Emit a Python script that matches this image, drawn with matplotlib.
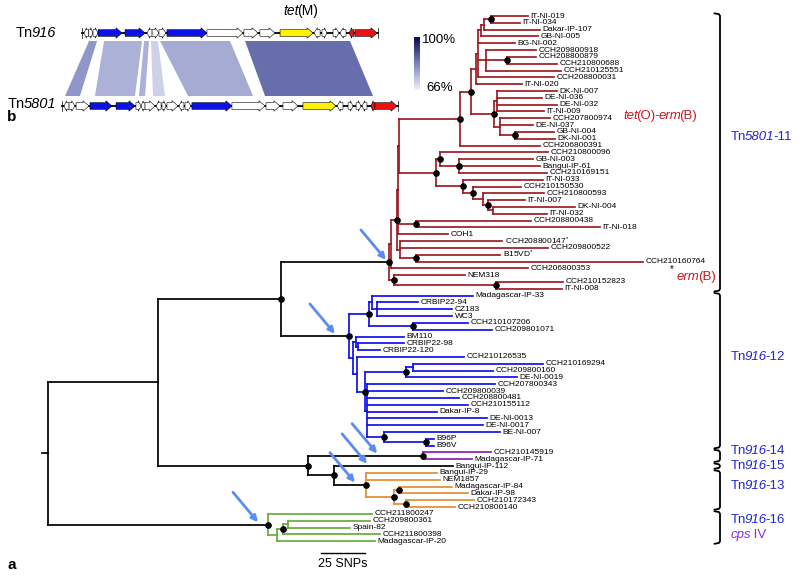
import matplotlib.pyplot as plt
from matplotlib.collections import LineCollection
from matplotlib.patches import Polygon
from matplotlib.colors import LinearSegmentedColormap, Normalize
import numpy as np

plt.rcParams['font.family'] = ['Liberation Sans', 'DejaVu Sans']
plt.rcParams['mathtext.fontset'] = 'custom'
plt.rcParams['mathtext.rm'] = 'Liberation Sans'
plt.rcParams['mathtext.it'] = 'Liberation Sans:italic'

RED = "#9c1c22"
BLUE = "#1010ee"
PURPLE = "#8c1fb4"
ORANGE = "#e58e2e"
GREEN = "#66ac38"
ARROW = "#5b8cf0"


def N(depth, children, dot=False, color=None, key=None):
    return {"depth": depth, "children": children, "dot": dot, "color": color, "key": key}


def L(name, depth, star=False):
    return {"name": name, "depth": depth, "star": star}


# ---- tree (depth = SNPs from root) ----
# tet(O)-erm(B) / erm(B) clade
ua = N(251.7, [L("IT-NI-019", 272.7), L("IT-NI-034", 268.2)], dot=True)
ub = N(247.7, [ua, L("Dakar-IP-107", 279.5)])
uc = N(246.0, [ub, L("GB-NI-005", 278.4)])
ud = N(260.8, [L("CCH208800879", 277.3), L("CCH210800688", 289.2)], dot=True)
ue = N(248.9, [L("CCH209800918", 277.3), ud, L("CCH210125551", 291.5)])
uf = N(244.3, [uc, L("BG-NI-002", 265.3), ue, L("CCH208800031", 287.5)])
ug = N(243.2, [uf, L("IT-NI-020", 269.3)])
dk_a = N(255.1, [L("DK-NI-007", 289.2), L("DE-NI-036", 280.7),
                 L("DE-NI-032", 289.2), L("IT-NI-009", 281.8)])
dk_c = N(265.3, [L("GB-NI-004", 287.5), L("DK-NI-001", 288.1)], dot=True)
dk_b = N(256.8, [L("CCH207800974", 285.2), L("DE-NI-037", 275.6), dk_c])
dk = N(253.4, [dk_a, dk_b], dot=True)
ug2 = N(240.3, [ug, dk], dot=True)
n460 = N(234.1, [ug2, L("CCH206800391", 279.5)], dot=True)
w = N(233.5, [L("GB-NI-003", 275.6), L("Bangui-IP-61", 279.5), L("CCH210169151", 283.5)], dot=True)
n440 = N(222.7, [L("CCH210800096", 284.1), w], dot=True)
y5 = N(252.8, [L("DK-NI-004", 299.4), L("IT-NI-032", 283.5)])
y4 = N(250.0, [L("IT-NI-007", 271.0), y5], dot=True)
y3 = N(247.2, [L("CCH210800593", 281.8), y4])
y2 = N(241.5, [L("CCH210150530", 268.8), y3], dot=True)
y1 = N(235.8, [L("IT-NI-033", 281.3), y2], dot=True)
n436 = N(220.5, [n440, y1], dot=True)
u = N(199.4, [n460, n436])
r438 = N(209.1, [L("CCH208800438", 274.4), L("IT-NI-018", 313.6)], dot=True)
rm1 = N(198.9, [u, r438, L("COH1", 227.3)])
rb2 = N(209.1, [L("B15VD", 256.8, star=True), L("CCH210160764", 338.1)], dot=True)
rb = N(200.0, [L("CCH208800147", 258.0, star=True), L("CCH209800522", 284.1), rb2])
rmain = N(198.3, [rm1, rb], dot=True)
rup = N(194.9, [rmain, L("CCH206800353", 272.7)])
rx = N(254.5, [L("CCH210152823", 292.6), L("IT-NI-008", 292.0)], dot=True)
rnem = N(196.6, [L("NEM318", 236.9), rx], dot=True)
red_clade = N(193.8, [rup, rnem], dot=True, color=RED, key="red")

# Tn916-12 clade
bl1c = N(186.9, [L("CRBIP22-94", 210.2), L("CZ183", 229.5), L("WC3", 229.5)])
bl1a = N(184.1, [L("Madagascar-IP-33", 241.5), bl1c])
bl1d = N(207.4, [L("CCH210107206", 238.6), L("CCH209801071", 252.3)], dot=True)
bl1 = N(182.4, [bl1a, bl1d], dot=True)
bl2b = N(176.1, [L("CRBIP22-98", 202.3), L("CRBIP22-120", 188.6)])
bl2a = N(175.0, [L("BM110", 202.3), bl2b])
bl3a = N(203.4, [N(207.4, [L("CCH210169294", 281.3), L("CCH209800160", 252.8)]),
                 L("DE-NI-0019", 266.5)], dot=True)
b96 = N(214.8, [L("B96P", 219.3), L("B96V", 219.3)], dot=True)
bl3c = N(181.3, [L("CCH207800343", 254.0), L("CCH209800039", 224.4), L("CCH208800481", 233.5),
                 L("CCH210155112", 238.6), L("Dakar-IP-8", 221.0), L("DE-NI-0013", 249.4),
                 L("DE-NI-0017", 247.2), N(190.9, [L("BE-NI-007", 256.8), b96], dot=True)])
bl3 = N(180.1, [bl3a, bl3c], dot=True)
bl2c = N(175.6, [L("CCH210126535", 236.4), bl3])
bl2 = N(173.3, [bl2a, bl2c])
blue_clade = N(171.0, [bl1, bl2], dot=True, color=BLUE, key="blue")

# Tn916-14, -15, -13
purple_clade = N(213.1, [L("CCH210145919", 251.7), L("Madagascar-IP-71", 240.9)],
                 dot=True, color=PURPLE, key="purple")
orange_clade = N(180.7, [L("Bangui-IP-29", 221.0), L("NEM1857", 222.7),
                         N(196.6, [N(199.4, [L("Madagascar-IP-84", 229.5), L("Dakar-IP-98", 238.6)], dot=True),
                                   N(203.4, [L("CCH210172343", 242.0), L("CCH210800140", 231.3)], dot=True)],
                           dot=True)],
                 dot=True, color=ORANGE, key="orange")

# Tn916-16
green_clade = N(125.0, [L("CCH211800247", 184.1),
                        N(130.1, [N(133.5, [N(136.4, [L("CCH209800361", 183.0), L("Spain-82", 171.6)]),
                                            L("CCH211800398", 188.6)], dot=True),
                                  L("Madagascar-IP-20", 185.8)])],
                dot=True, color=GREEN, key="green")

d_node = N(162.5, [L("Bangui-IP-112", 230.1), orange_clade], dot=True, key="d")
c_node = N(147.7, [purple_clade, d_node], dot=True)
b_node = N(132.4, [red_clade, blue_clade], dot=True)
a_node = N(62.5, [b_node, c_node])
tree = N(0.0, [a_node, green_clade], color="black")

# right-hand groups: (label parts, first leaf, last leaf)
group_names = [[("Tn", 0), ("5801", 1), ("-11", 0)], [("Tn", 0), ("916", 1), ("-12", 0)],
               [("Tn", 0), ("916", 1), ("-14", 0)], [("Tn", 0), ("916", 1), ("-15", 0)],
               [("Tn", 0), ("916", 1), ("-13", 0)], [("Tn", 0), ("916", 1), ("-16", 0)]]
group_first = ["IT-NI-019", "Madagascar-IP-33", "CCH210145919", "Bangui-IP-112", "Bangui-IP-29", "CCH211800247"]
group_last = ["IT-NI-008", "B96V", "Madagascar-IP-71", "Bangui-IP-112", "CCH210800140", "Madagascar-IP-20"]

# arrows: (node / leaf, head position in SNPs)
arrow_targets = [("red", 192.0), ("blue", 163.0), ("purple", 187.0),
                 ("Bangui-IP-112", 181.3), ("orange", 174.4), ("green", 119.3)]

# ---- panel b: gene maps (kb) ----
tn916_start = [0.12, 0.41, 0.69, 1.0, 2.69, 4.06, 4.38, 4.81, 5.31, 7.81, 10.12, 11.12, 12.38,
               14.5, 15.0, 15.69, 16.12, 16.69, 17.06]
tn916_end = [0.41, 0.69, 1.0, 2.5, 3.94, 4.38, 4.81, 5.25, 7.81, 10.06, 11.0, 12.06, 14.44,
             14.88, 15.31, 16.06, 16.5, 17.0, 18.44]
tn916_strand = [-1, 1, 1, 1, 1, -1, 1, 1, 1, 1, 1, 1, 1, -1, 1, 1, -1, -1, 1]
tn916_kind = ["o", "o", "o", "b", "b", "o", "o", "o", "b", "o", "o", "o", "y",
              "o", "o", "o", "o", "r", "r"]
tn916_len = 18.5

tn5801_start = [0.12, 0.44, 0.88, 1.75, 3.38, 4.62, 4.94, 5.19, 5.88, 6.25, 6.56, 7.31, 7.69, 8.12,
                10.62, 12.75, 13.81, 15.06, 17.19, 17.88, 18.38, 18.75, 19.31, 19.56]
tn5801_end = [0.44, 0.81, 1.69, 3.12, 4.56, 4.94, 5.19, 5.81, 6.19, 6.5, 7.25, 7.62, 8.06, 10.62,
              12.69, 13.62, 14.75, 17.12, 17.56, 18.19, 18.69, 19.06, 19.56, 20.94]
tn5801_strand = [-1, 1, 1, 1, 1, 1, -1, 1, -1, 1, 1, -1, 1, 1, 1, 1, 1, 1, -1, 1, 1, -1, -1, 1]
tn5801_kind = ["o", "o", "o", "b", "b", "o", "o", "o", "o", "o", "o", "o", "o", "b",
               "o", "o", "o", "y", "o", "o", "o", "o", "r", "r"]
tn5801_len = 21.0

# blocks of identity: Tn916 span, Tn5801 span, identity %
blk_top0 = [0.44, 1.38, 3.88, 4.31, 4.88, 10.19]
blk_top1 = [0.94, 3.75, 4.19, 4.75, 9.25, 16.75]
blk_bot0 = [0.19, 2.06, 4.81, 5.69, 7.88, 12.69]
blk_bot1 = [1.12, 4.56, 5.19, 6.44, 11.94, 19.44]
blk_ident = [80, 76, 76, 71, 77, 86]

gene_colors = {"o": "white", "b": "#0a12e8", "y": "#fff200", "r": "#ee1111"}

# ---- figure ----
fig = plt.figure(figsize=(8, 5.77), dpi=100)
renderer = fig.canvas.get_renderer()
PX_SNP = 1.76
ROW = 6.82
ax = fig.add_axes([0, 0, 1, 1])
ax.set_xlim(-48 / PX_SNP, (800 - 48) / PX_SNP)
ax.set_ylim((577 - 16) / ROW, -16 / ROW)
ax.axis("off")

leaf_y = {}
segs, seg_cols, dots = [], [], []
node_pos = {}


def place(node, color):
    if "name" in node:
        y = len(leaf_y)
        leaf_y[node["name"]] = y
        node_pos[node["name"]] = (node["depth"], y)
        return y
    c = node["color"] or color
    ys = [place(ch, c) for ch in node["children"]]
    y = (ys[0] + ys[-1]) / 2
    x = node["depth"]
    segs.append([(x, ys[0]), (x, ys[-1])])
    seg_cols.append(c)
    for ch, yc in zip(node["children"], ys):
        segs.append([(x, yc), (ch["depth"], yc)])
        seg_cols.append(c)
        if "name" in ch:
            lab = ch["name"] + ("$^{*}$" if ch["star"] else "")
            ax.text(ch["depth"] + 1.5, yc, lab, fontsize=6.0, va="center", ha="left")
    if node["dot"]:
        dots.append((x, y))
    if node["key"]:
        node_pos[node["key"]] = (x, y)
    return y


root_y = place(tree, "black")
segs.append([(-3.4, root_y), (0, root_y)])
seg_cols.append("black")
ax.add_collection(LineCollection(segs, colors=seg_cols, linewidths=1.25, capstyle="projecting"))
ax.plot([p[0] for p in dots], [p[1] for p in dots], "o", color="black", ms=3.8, zorder=3)

for key, xh in arrow_targets:
    yh = node_pos[key][1] - 0.35
    ax.annotate("", xy=(xh, yh), xytext=(-18, 21.5), textcoords="offset points",
                arrowprops=dict(arrowstyle="-|>", color=ARROW, lw=2.0, mutation_scale=9,
                                shrinkA=0, shrinkB=0))

# scale bar
ax.plot([155.1, 180.1], [78.7, 78.7], color="black", lw=1.0)
ax.text(167.6, 80.3, "25 SNPs", ha="center", va="center", fontsize=9)

# brackets
bx = (720 - 48) / PX_SNP
for f, l in zip(group_first, group_last):
    y0 = leaf_y[f] - 0.27
    y1 = leaf_y[l] + 0.27
    ax.plot([bx - 3.2, bx - 0.6, bx, bx, bx - 0.6, bx - 3.2],
            [y0 - 0.12, y0, y0 + 0.25, y1 - 0.25, y1, y1 + 0.12], color="black", lw=1.3,
            solid_joinstyle="round", solid_capstyle="round")

# ---- overlay in pixel coordinates ----
ax2 = fig.add_axes([0, 0, 1, 1])
ax2.set_xlim(0, 800)
ax2.set_ylim(577, 0)
ax2.axis("off")
ax2.patch.set_alpha(0)


def rich(x, y, parts, **kw):
    # text made of upright / italic pieces, laid side by side
    for s, it in parts:
        t = ax2.text(x, y, s, style="italic" if it else "normal", ha="left", va="center", **kw)
        x += t.get_window_extent(renderer=renderer).width - 1.5


KB = 16.0
cmap = LinearSegmentedColormap.from_list("ident", ["#eef2fb", "#7c83bd", "#0a0a55"])
norm = Normalize(66, 100)


def gene(x0, x1, yc, strand, color):
    body, head = 3.3, 5.2
    hl = min(6.0, (x1 - x0) * 0.55)
    if strand > 0:
        pts = [(x0, yc - body), (x1 - hl, yc - body), (x1 - hl, yc - head), (x1, yc),
               (x1 - hl, yc + head), (x1 - hl, yc + body), (x0, yc + body)]
    else:
        pts = [(x1, yc - body), (x0 + hl, yc - body), (x0 + hl, yc - head), (x0, yc),
               (x0 + hl, yc + head), (x0 + hl, yc + body), (x1, yc + body)]
    ax2.add_patch(Polygon(pts, closed=True, facecolor=color, edgecolor="black", lw=0.4, zorder=3))


def track(x_start, yc, length, starts, ends, strands, kinds):
    ax2.plot([x_start, x_start + length * KB], [yc, yc], color="black", lw=1.3, zorder=2)
    for xe in (x_start, x_start + length * KB):
        ax2.plot([xe, xe], [yc - 5, yc + 5], color="black", lw=0.5, zorder=2)
    for s, e, st, k in zip(starts, ends, strands, kinds):
        gene(x_start + s * KB, x_start + e * KB, yc, st, gene_colors[k])


top_x, top_y = 82, 33
bot_x, bot_y = 62, 106
for t0, t1, b0, b1, idv in zip(blk_top0, blk_top1, blk_bot0, blk_bot1, blk_ident):
    pts = [(top_x + t0 * KB, 41), (top_x + t1 * KB, 41), (bot_x + b1 * KB, 96), (bot_x + b0 * KB, 96)]
    ax2.add_patch(Polygon(pts, closed=True, facecolor=cmap(norm(idv)), edgecolor="none", zorder=1))

track(top_x, top_y, tn916_len, tn916_start, tn916_end, tn916_strand, tn916_kind)
track(bot_x, bot_y, tn5801_len, tn5801_start, tn5801_end, tn5801_strand, tn5801_kind)

rich(16, top_y, [("Tn", 0), ("916", 1)], fontsize=10.5)
rich(8, bot_y - 2, [("Tn", 0), ("5801", 1)], fontsize=10.5)
rich(283, 11, [("tet", 1), ("(M)", 0)], fontsize=10)

grad = np.linspace(100, 66, 100).reshape(-1, 1)
ax2.imshow(grad, cmap=cmap, norm=norm, extent=[414, 420, 90, 37], aspect="auto", zorder=2)
ax2.text(422, 40, "100%", fontsize=9.5, va="center", ha="left")
ax2.text(426, 88, "66%", fontsize=9.5, va="center", ha="left")

ax2.text(12, 117, "b", fontsize=11, fontweight="bold", va="center", ha="center")
ax2.text(12, 565, "a", fontsize=11, fontweight="bold", va="center", ha="center")

# group labels
lab_color = "#2323d6"
group_label_y = [137, 357, 451, 466, 486, 520]
for parts, ly in zip(group_names, group_label_y):
    rich(731, ly, parts, fontsize=9.5, color=lab_color)
rich(731, 535, [("cps", 1), (" IV", 0)], fontsize=9.5, color="#8a2be2")
rich(623, 116, [("tet", 1), ("(O)-", 0), ("erm", 1), ("(B)", 0)], fontsize=9.5, color="#c8191f")
ax2.text(670, 269.5, "*", fontsize=7, va="center", ha="left")
rich(677, 277, [("erm", 1), ("(B)", 0)], fontsize=9.5, color="#c8191f")

fig.savefig("out.png", dpi=100, facecolor="white")
